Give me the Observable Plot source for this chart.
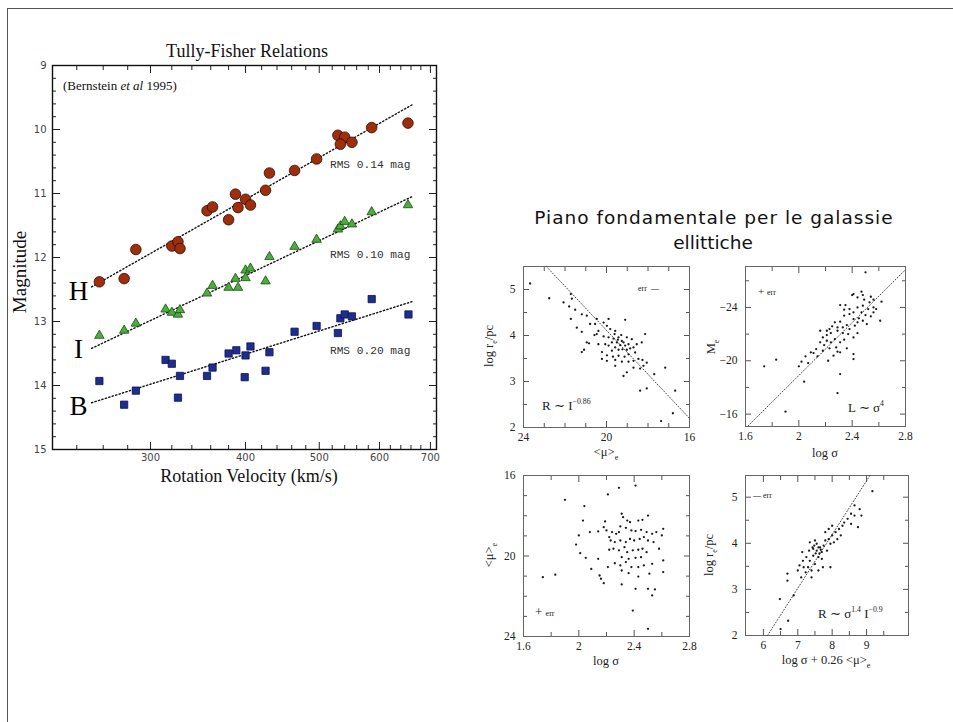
<!DOCTYPE html>
<html>
<head>
<meta charset="utf-8">
<script src="https://cdn.jsdelivr.net/npm/d3@7"></script>
<script src="https://cdn.jsdelivr.net/npm/@observablehq/plot@0.6"></script>
<style>
html,body{margin:0;padding:0;background:#fff;}
#page{position:relative;width:953px;height:722px;overflow:hidden;background:#fff;}
#border{position:absolute;left:7px;top:8px;width:1200px;height:1000px;border-left:1px solid #555;border-top:1px solid #555;}
.a{position:absolute;white-space:nowrap;line-height:1;}
.c{transform:translate(-50%,-50%);}
.l{transform:translate(0,-50%);}
.r{transform:translate(-50%,-50%) rotate(-90deg);}
.tnr{font-family:"Liberation Serif","Times New Roman",serif;color:#111;}
.sans{font-family:"DejaVu Sans",sans-serif;color:#111;}
.sm{font-family:"Liberation Serif","Times New Roman",serif;color:#222;font-size:12.5px;}
sup{font-size:0.6em;vertical-align:0.7em;line-height:0;}
.plotbox{position:absolute;}
</style>
</head>
<body>
<div id="page">
<div id="border"></div>

<div class="a c tnr" style="left:247px;top:51px;font-size:18px;">Tully-Fisher Relations</div>
<div class="a l tnr" style="left:63px;top:85px;font-size:13px;">(Bernstein <i>et al</i> 1995)</div>
<div class="a r tnr" style="left:19px;top:272px;font-size:19px;">Magnitude</div>
<div class="a c tnr" style="left:249px;top:476px;font-size:18px;">Rotation Velocity (km/s)</div>

<div class="a c sans" style="left:714px;top:218px;font-size:18.5px;letter-spacing:1px;">Piano fondamentale per le galassie</div>
<div class="a c sans" style="left:713px;top:243px;font-size:18.5px;">ellittiche</div>

<div class="a r sm" style="left:491px;top:346px;">log r<sub style="font-size:8px">e</sub>/pc</div>
<div class="a c sm" style="left:606px;top:454px;">&lt;μ&gt;<sub style="font-size:8px">e</sub></div>
<div class="a r sm" style="left:713px;top:347px;">M<sub style="font-size:8px">e</sub></div>
<div class="a c sm" style="left:825px;top:453px;">log σ</div>
<div class="a r sm" style="left:491px;top:555px;">&lt;μ&gt;<sub style="font-size:8px">e</sub></div>
<div class="a c sm" style="left:606px;top:661px;">log σ</div>
<div class="a r sm" style="left:711px;top:555px;">log r<sub style="font-size:8px">e</sub>/pc</div>
<div class="a c sm" style="left:826px;top:662px;">log σ + 0.26 &lt;μ&gt;<sub style="font-size:8px">e</sub></div>

<div class="a l sm" style="left:542px;top:405px;font-size:13px;">R ∼ I<sup>−0.86</sup></div>
<div class="a l sm" style="left:638px;top:289px;font-size:8px;">err &nbsp;—</div>
<div class="a l sm" style="left:758px;top:291px;font-size:11px;">+ <span style="font-size:8px">err</span></div>
<div class="a l sm" style="left:848px;top:407px;font-size:13px;">L ∼ σ<sup>4</sup></div>
<div class="a l sm" style="left:535px;top:611px;font-size:13px;">+ <span style="font-size:8px">err</span></div>
<div class="a l sm" style="left:753px;top:496px;font-size:8px;">— err</div>
<div class="a l sm" style="left:818px;top:613px;font-size:13px;">R ∼ σ<sup>1.4</sup> I<sup>−0.9</sup></div>
</div>

<script>
// ---------- Tully-Fisher data ----------
const hVel = [257,277,287,320,326,328,356,362,380,388,391,400,406,425,430,464,496,529,540,533,552,586,654];
const hMag = [12.38,12.33,11.875,11.82,11.755,11.86,11.27,11.21,11.41,11.01,11.22,11.09,11.18,10.95,10.68,10.64,10.46,10.09,10.12,10.23,10.20,9.97,9.90];
const iVel = [257,277,287,314,320,326,328,356,362,380,388,391,400,400,406,425,430,464,496,529,533,540,552,586,654];
const iMag = [13.22,13.14,13.03,12.81,12.86,12.89,12.82,12.56,12.44,12.47,12.33,12.47,12.20,12.32,12.17,12.37,11.99,11.83,11.72,11.56,11.51,11.44,11.48,11.29,11.18];
const bVel = [257,277,287,314,320,326,328,356,362,380,389,400,399,406,425,430,464,496,529,533,540,552,586,655];
const bMag = [13.93,14.30,14.08,13.60,13.66,14.19,13.85,13.85,13.72,13.50,13.45,13.53,13.87,13.39,13.77,13.48,13.16,13.07,13.18,12.95,12.89,12.92,12.65,12.89];
const fitVel = [251, 662];
const hFit = [12.46, 9.615];
const iFit = [13.42, 11.05];
const bFit = [14.27, 12.69];
const rmsLabels = ["RMS 0.14 mag", "RMS 0.10 mag", "RMS 0.20 mag"];
const rmsMag = [10.55, 11.95, 13.45];
const bandNames = ["H", "I", "B"];
const bandMag = [12.53, 13.44, 14.33];
const tfMajorX = [300,400,500,600,700];
const tfMinorX = [240,260,280,320,340,360,380,420,440,460,480,520,540,560,580,620,640,660,680];
const tfMajorY = [9,10,11,12,13,14,15];
const tfMinorY = [9.2,9.4,9.6,9.8,10.2,10.4,10.6,10.8,11.2,11.4,11.6,11.8,12.2,12.4,12.6,12.8,13.2,13.4,13.6,13.8,14.2,14.4,14.6,14.8];

// ---------- Fundamental plane panels ----------
const p1Mu = [23.68,22.76,22.07,21.72,21.67,21.80,21.51,21.19,20.95,21.72,20.79,21.43,21.19,20.55,20.39,20.47,20.14,19.90,19.98,19.82,19.58,19.10,20.58,20.14,20.95,20.84,20.39,21.19,21.08,19.90,19.66,19.42,19.26,19.02,18.78,19.50,19.34,19.18,19.10,18.94,19.58,19.42,19.23,19.02,18.86,18.70,19.74,19.90,20.06,20.22,19.98,19.69,19.42,19.13,18.94,18.62,18.54,18.30,18.14,20.22,19.98,19.58,19.26,18.94,18.70,18.46,18.27,18.06,18.70,18.38,18.22,19.02,19.18,17.70,17.17,18.38,18.06,16.69,16.80,17.37,19.58,20.47,19.74,19.45,19.29,19.61];
const p1LogR = [5.13,4.81,4.72,4.90,4.80,4.63,4.56,4.46,4.43,4.36,4.25,4.17,4.08,4.25,4.10,4.36,4.28,4.36,4.21,4.14,4.10,4.34,4.01,3.98,3.85,3.83,3.81,3.64,3.69,3.96,3.93,3.96,3.88,3.96,3.92,3.85,3.79,3.85,3.78,3.81,3.74,3.69,3.70,3.69,3.72,3.74,3.67,3.78,3.81,3.64,3.57,3.54,3.56,3.54,3.59,3.63,3.81,3.85,4.03,3.49,3.45,3.47,3.43,3.43,3.45,3.49,3.47,3.41,3.30,3.28,3.34,3.20,3.12,3.16,3.30,2.80,2.85,2.80,2.31,2.14,3.34,4.03,3.85,3.91,4.01,4.03];
const p1FitMu = [22.9, 16.0];
const p1FitLogR = [5.5, 2.2];

const p2LogSigma = [2.50,1.74,1.83,1.90,2.04,2.00,2.02,2.05,2.07,2.11,2.14,2.18,2.22,2.16,2.19,2.23,2.29,2.31,2.41,2.41,2.26,2.29,2.31,2.28,2.24,2.21,2.16,2.21,2.27,2.31,2.34,2.24,2.29,2.33,2.27,2.31,2.36,2.38,2.37,2.42,2.44,2.41,2.45,2.48,2.51,2.34,2.38,2.41,2.47,2.50,2.54,2.56,2.34,2.38,2.44,2.48,2.52,2.56,2.58,2.61,2.62,2.53,2.49,2.44,2.40,2.35,2.31,2.41,2.48,2.54,2.56,2.47,2.21,2.18,2.13,2.09,2.36,2.33,2.41,2.44,2.29,2.25,2.23];
const p2Me = [-26.63,-19.58,-20.08,-16.18,-18.43,-19.58,-19.93,-20.33,-19.83,-20.58,-20.33,-20.75,-20.0,-21.38,-21.18,-20.93,-17.58,-19.0,-20.13,-20.5,-20.38,-20.68,-20.63,-21.0,-21.38,-21.93,-22.25,-22.25,-21.63,-21.38,-21.58,-22.08,-22.25,-22.5,-22.88,-22.93,-22.68,-22.38,-22.0,-22.63,-22.88,-23.13,-23.18,-23.0,-22.75,-23.38,-23.5,-23.63,-23.63,-23.43,-23.33,-23.63,-23.83,-23.88,-24.0,-24.13,-23.88,-24.0,-23.88,-23.0,-24.43,-24.38,-24.58,-24.75,-24.93,-24.18,-24.18,-25.0,-24.93,-24.8,-24.58,-25.18,-21.5,-21.75,-20.88,-20.63,-20.93,-22.08,-21.75,-22.08,-22.5,-22.58,-22.38];
const p2FitLogSigma = [1.62, 2.8];
const p2FitMe = [-15.13, -26.83];

const p3LogSigma = [1.74,1.83,1.90,2.04,2.03,2.21,2.29,2.41,2.00,1.98,2.01,2.05,2.09,2.14,2.15,2.16,2.18,2.21,2.08,2.14,2.18,2.19,2.22,2.24,2.27,2.29,2.31,2.32,2.35,2.30,2.34,2.38,2.41,2.45,2.49,2.53,2.56,2.50,2.46,2.43,2.37,2.61,2.23,2.26,2.30,2.34,2.37,2.40,2.44,2.47,2.50,2.54,2.58,2.25,2.29,2.33,2.35,2.39,2.43,2.46,2.49,2.31,2.36,2.41,2.45,2.26,2.30,2.34,2.38,2.43,2.47,2.53,2.61,2.31,2.36,2.43,2.51,2.61,2.31,2.41,2.50,2.55,2.53,2.39,2.50,2.22,2.60,2.20];
const p3Mu = [21.05,20.93,17.21,17.52,18.24,16.94,16.61,16.50,18.98,19.43,19.86,20.09,20.64,20.14,20.97,21.13,21.35,20.55,18.81,18.78,18.57,18.28,19.06,18.81,18.9,18.81,17.90,18.07,18.24,18.53,18.6,18.73,18.76,18.70,18.81,18.9,18.81,17.99,18.2,18.24,18.32,18.65,19.23,19.31,19.23,19.31,19.15,19.23,19.15,19.06,19.23,19.31,19.64,19.64,19.72,19.56,19.81,19.72,19.69,19.64,19.81,20.06,20.14,20.09,20.06,20.36,20.47,20.30,20.55,20.55,20.47,20.39,20.22,20.72,20.85,21.02,20.88,20.80,21.41,21.63,21.63,21.66,21.96,22.71,23.62,19.69,18.98,18.73];

const p4Combo = [9.17,6.70,6.70,6.72,6.48,6.88,6.50,7.13,7.17,7.10,7.23,7.30,7.35,7.40,7.45,7.50,7.55,7.60,7.65,7.70,7.75,7.55,7.43,7.33,7.25,7.80,7.90,8.00,8.10,8.20,8.30,8.35,8.45,8.55,8.65,7.95,8.05,7.85,7.70,7.60,7.80,7.90,8.00,8.75,8.85,8.65,8.80,8.55,7.35,7.50,7.15,7.05,7.00,7.45,7.52,7.63,7.67,7.60,7.48,8.15,8.25,7.73,7.95,7.40];
const p4LogR = [5.13,3.34,3.19,2.32,2.79,2.87,2.14,3.81,3.48,3.26,3.37,3.48,3.62,3.41,3.73,3.55,3.84,3.70,3.91,3.81,3.95,3.99,3.91,3.84,3.70,4.06,4.09,4.17,4.24,4.31,4.38,4.45,4.53,4.64,4.82,3.99,4.02,3.84,3.66,3.41,4.24,4.31,4.38,4.35,4.60,4.60,4.74,4.42,4.02,4.06,3.62,3.52,3.41,3.88,3.78,3.78,3.86,3.91,3.95,4.09,4.17,3.48,3.48,3.26];
const p4FitCombo = [6.12, 9.1];
const p4FitLogR = [2.0, 5.47];

// ---------- helpers ----------
const serif = "Liberation Serif, Times New Roman, serif";
const zip = (xs, ys) => xs.map((x, i) => ({x, y: ys[i]}));
const minus = d => String(d).replace("-", "\u2212");

function inTicks(axis, values, size, stroke) {
  const A = axis === "x" ? Plot.axisX : Plot.axisY;
  const anchors = axis === "x" ? ["bottom", "top"] : ["left", "right"];
  return anchors.map(anchor => A(values, {anchor, tickSize: -size, tickPadding: 0, tickFormat: () => "", label: null, color: stroke, strokeWidth: 1}));
}

function place(el, left, top) {
  const d = document.createElement("div");
  d.className = "plotbox";
  d.style.left = left + "px";
  d.style.top = top + "px";
  d.appendChild(el);
  document.getElementById("page").appendChild(d);
}

const boxStyle = "background:transparent;max-width:none;overflow:visible;";

// ---------- Tully-Fisher chart ----------
const tf = Plot.plot({
  width: 460, height: 500,
  marginLeft: 52, marginRight: 24, marginTop: 65, marginBottom: 51,
  style: boxStyle,
  x: {type: "log", domain: [223, 713]},
  y: {domain: [15, 9]},
  marks: [
    ...inTicks("x", tfMinorX, 4, "#222"),
    ...inTicks("x", tfMajorX, 7, "#222"),
    ...inTicks("y", tfMinorY, 4, "#222"),
    ...inTicks("y", tfMajorY, 8, "#222"),
    Plot.frame({stroke: "#111", strokeWidth: 1.4}),
    Plot.axisX(tfMajorX, {anchor: "bottom", tickSize: 0, tickPadding: 4, label: null, tickFormat: d => String(d), fontSize: 10, fontFamily: "DejaVu Sans", color: "#444"}),
    Plot.axisY(tfMajorY, {anchor: "left", tickSize: 0, tickPadding: 6, label: null, tickFormat: d => String(d), fontSize: 10, fontFamily: "DejaVu Sans", color: "#444"}),
    Plot.line(zip(fitVel, hFit), {x: "x", y: "y", stroke: "#111", strokeWidth: 1.4, strokeDasharray: "1.3,2.3"}),
    Plot.line(zip(fitVel, iFit), {x: "x", y: "y", stroke: "#111", strokeWidth: 1.4, strokeDasharray: "1.3,2.3"}),
    Plot.line(zip(fitVel, bFit), {x: "x", y: "y", stroke: "#111", strokeWidth: 1.4, strokeDasharray: "1.3,2.3"}),
    Plot.dot(zip(hVel, hMag), {x: "x", y: "y", r: 5.3, fill: "#9e2e0c", stroke: "#2e0b02", strokeWidth: 0.8}),
    Plot.dot(zip(iVel, iMag), {x: "x", y: "y", symbol: "triangle", r: 3.5, fill: "#4cae3c", stroke: "#1a4a12", strokeWidth: 0.8}),
    Plot.dot(zip(bVel, bMag), {x: "x", y: "y", symbol: "square", r: 4.1, fill: "#1f2e8e", stroke: "#0a1350", strokeWidth: 0.8}),
    Plot.text(rmsLabels, {y: rmsMag, text: d => d, frameAnchor: "right", dx: -26, textAnchor: "end", fontFamily: "Liberation Mono", fontSize: 11.2, fill: "#333"}),
    Plot.text(bandNames, {y: bandMag, text: d => d, frameAnchor: "left", dx: 26, textAnchor: "middle", fontFamily: serif, fontSize: 27, fill: "#000"})
  ]
});
place(tf, 0, 0);

// ---------- panels ----------
function panel(o) {
  const ml = 40, mt = 8, mr = 8, mb = 26;
  const svg = Plot.plot({
    width: o.fw + ml + mr, height: o.fh + mt + mb,
    marginLeft: ml, marginTop: mt, marginRight: mr, marginBottom: mb,
    style: boxStyle,
    x: {domain: o.xDomain},
    y: {domain: o.yDomain},
    marks: [
      ...inTicks("x", o.xMajor, 6, "#555"),
      ...inTicks("x", o.xMinor, 4, "#555"),
      ...inTicks("y", o.yMajor, 6, "#555"),
      ...inTicks("y", o.yMinor, 4, "#555"),
      Plot.frame({stroke: "#666", strokeWidth: 1}),
      Plot.axisX(o.xLabels, {anchor: "bottom", tickSize: 0, tickPadding: 5, label: null, tickFormat: minus, fontSize: 11.5, fontFamily: serif, color: "#222"}),
      Plot.axisY(o.yLabels, {anchor: "left", tickSize: 0, tickPadding: 8, label: null, tickFormat: minus, fontSize: 11.5, fontFamily: serif, color: "#222"}),
      o.fit ? Plot.line(o.fit, {x: "x", y: "y", stroke: "#444", strokeWidth: 1, strokeDasharray: "1,2"}) : null,
      Plot.dot(o.pts, {x: "x", y: "y", r: 1.15, fill: "#1a1a1a"})
    ]
  });
  place(svg, o.fx - ml, o.fy - mt);
}

panel({fx: 523, fy: 266, fw: 166, fh: 161,
  xDomain: [24, 16], yDomain: [2, 5.5],
  xMajor: [24, 20, 16], xMinor: [23, 22, 21, 19, 18, 17],
  yMajor: [2, 3, 4, 5], yMinor: [2.5, 3.5, 4.5],
  xLabels: [24, 20, 16], yLabels: [2, 3, 4, 5],
  pts: zip(p1Mu, p1LogR), fit: zip(p1FitMu, p1FitLogR)});

panel({fx: 745, fy: 266, fw: 160, fh: 160,
  xDomain: [1.6, 2.8], yDomain: [-15.07, -27.07],
  xMajor: [2, 2.4], xMinor: [1.8, 2.2, 2.6],
  yMajor: [-24, -20, -16], yMinor: [-26, -22, -18],
  xLabels: [1.6, 2, 2.4, 2.8], yLabels: [-24, -20, -16],
  pts: zip(p2LogSigma, p2Me), fit: zip(p2FitLogSigma, p2FitMe)});

panel({fx: 523, fy: 475, fw: 166, fh: 161,
  xDomain: [1.6, 2.8], yDomain: [24, 16],
  xMajor: [2, 2.4], xMinor: [1.8, 2.2, 2.6],
  yMajor: [20], yMinor: [17, 18, 19, 21, 22, 23],
  xLabels: [1.6, 2, 2.4, 2.8], yLabels: [16, 20, 24],
  pts: zip(p3LogSigma, p3Mu), fit: null});

panel({fx: 745, fy: 475, fw: 163, fh: 160,
  xDomain: [5.48, 10.22], yDomain: [2, 5.47],
  xMajor: [6, 7, 8, 9], xMinor: [6.5, 7.5, 8.5, 9.5],
  yMajor: [3, 4, 5], yMinor: [2.5, 3.5, 4.5],
  xLabels: [6, 7, 8, 9], yLabels: [2, 3, 4, 5],
  pts: zip(p4Combo, p4LogR), fit: zip(p4FitCombo, p4FitLogR)});
</script>
</body>
</html>
